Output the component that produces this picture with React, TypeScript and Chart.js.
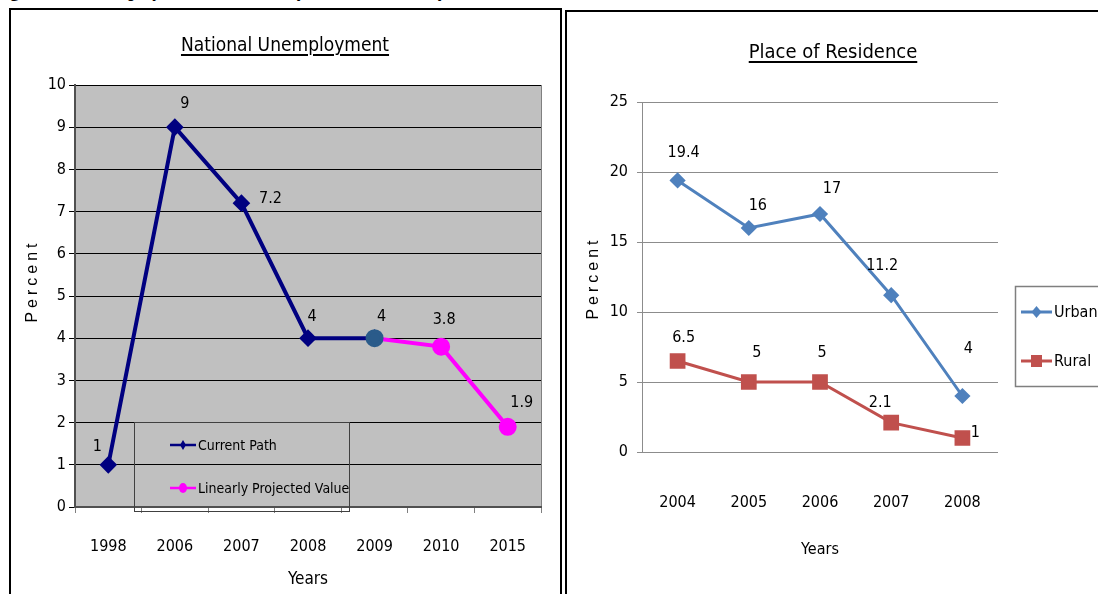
import React, { useEffect, useRef } from 'react';
import { Chart, registerables } from 'chart.js';

Chart.register(...registerables);

// ---------- data ----------
const nationalYears = ['1998', '2006', '2007', '2008', '2009', '2010', '2015'];
const currentPath = [1, 9, 7.2, 4, 4, null, null];
const projectedValue = [null, null, null, null, 4, 3.8, 1.9];
const nationalTickMax = 10;

const residenceYears = ['2004', '2005', '2006', '2007', '2008'];
const urbanRate = [19.4, 16, 17, 11.2, 4];
const ruralRate = [6.5, 5, 5, 2.1, 1];
const residenceTickMax = 25;

// ---------- styles ----------
const NARROW = "'Liberation Sans Narrow', 'DejaVu Sans Condensed', 'Roboto Condensed', 'Liberation Sans', sans-serif";
const ARIAL = "'Liberation Sans', Arial, sans-serif";

const currentLabelOffsets = [[-11, -18], [10, -23], [29, -4], [4, -21], [7, -21], null, null];
const projectedLabelOffsets = [null, null, null, null, null, [3, -27], [14, -24]];
const urbanLabelOffsets = [[6, -28], [9, -22], [12, -25], [-9, -29], [6, -47]];
const ruralLabelOffsets = [[6, -23], [8, -29], [2, -29], [-11, -20], [13, -5]];

function labelPlugin(font: string) {
  return {
    id: 'valueLabels',
    afterDatasetsDraw(chart: any) {
      const ctx = chart.ctx;
      chart.data.datasets.forEach((ds: any, i: number) => {
        const offs = ds.labelOffsets;
        if (!offs) return;
        const meta = chart.getDatasetMeta(i);
        meta.data.forEach((pt: any, j: number) => {
          const v = ds.data[j];
          if (v == null || !offs[j]) return;
          ctx.save();
          ctx.font = font;
          ctx.fillStyle = '#000';
          ctx.textAlign = 'center';
          ctx.textBaseline = 'middle';
          ctx.fillText(String(v), pt.x + offs[j][0], pt.y + offs[j][1]);
          ctx.restore();
        });
      });
    },
  };
}

function yTitlePlugin(text: string, x: number, y: number) {
  return {
    id: 'yTitle',
    afterDraw(chart: any) {
      const ctx = chart.ctx;
      ctx.save();
      ctx.translate(x, y);
      ctx.rotate(-Math.PI / 2);
      ctx.font = `16px ${ARIAL}`;
      (ctx as any).letterSpacing = '4px';
      ctx.fillStyle = '#000';
      ctx.textAlign = 'center';
      ctx.textBaseline = 'middle';
      ctx.fillText(text, 2, 0);
      ctx.restore();
    },
  };
}

const grayPlotPlugin = {
  id: 'grayPlot',
  beforeDraw(chart: any) {
    const { ctx, chartArea: a } = chart;
    ctx.save();
    ctx.fillStyle = '#c0c0c0';
    ctx.fillRect(a.left, a.top, a.right - a.left, a.bottom - a.top);
    ctx.strokeStyle = '#808080';
    ctx.lineWidth = 1;
    ctx.strokeRect(a.left + 0.5, a.top + 0.5, a.right - a.left, a.bottom - a.top);
    ctx.restore();
  },
};

const leftLegendPlugin = {
  id: 'leftLegend',
  afterDraw(chart: any) {
    const ctx = chart.ctx;
    ctx.save();
    ctx.strokeStyle = '#404040';
    ctx.lineWidth = 1;
    ctx.strokeRect(122.5, 410.5, 215, 89);
    const items = [
      { text: 'Current Path', color: '#000080', y: 433, style: 'diamond' },
      { text: 'Linearly Projected Value', color: '#ff00ff', y: 476, style: 'circle' },
    ];
    items.forEach((it) => {
      ctx.strokeStyle = it.color;
      ctx.lineWidth = 2.5;
      ctx.beginPath();
      ctx.moveTo(158, it.y);
      ctx.lineTo(184, it.y);
      ctx.stroke();
      ctx.fillStyle = it.color;
      ctx.beginPath();
      if (it.style === 'diamond') {
        ctx.moveTo(171, it.y - 5);
        ctx.lineTo(174, it.y);
        ctx.lineTo(171, it.y + 5);
        ctx.lineTo(168, it.y);
        ctx.closePath();
      } else {
        ctx.ellipse(171, it.y, 4, 5, 0, 0, Math.PI * 2);
      }
      ctx.fill();
      ctx.fillStyle = '#000';
      ctx.font = `14px ${NARROW}`;
      ctx.textAlign = 'left';
      ctx.textBaseline = 'middle';
      ctx.fillText(it.text, 186, it.y + 1);
    });
    ctx.restore();
  },
};

const rightLegendPlugin = {
  id: 'rightLegend',
  afterDraw(chart: any) {
    const ctx = chart.ctx;
    ctx.save();
    ctx.strokeStyle = '#7f7f7f';
    ctx.lineWidth = 1.5;
    ctx.strokeRect(447.5, 274.5, 100, 100);
    const items = [
      { text: 'Urban', color: '#4f81bd', y: 300, style: 'diamond' },
      { text: 'Rural', color: '#c0504d', y: 349, style: 'square' },
    ];
    items.forEach((it) => {
      ctx.strokeStyle = it.color;
      ctx.lineWidth = 3;
      ctx.beginPath();
      ctx.moveTo(453, it.y);
      ctx.lineTo(484, it.y);
      ctx.stroke();
      ctx.fillStyle = it.color;
      ctx.beginPath();
      if (it.style === 'diamond') {
        ctx.moveTo(468.5, it.y - 6);
        ctx.lineTo(473.5, it.y);
        ctx.lineTo(468.5, it.y + 6);
        ctx.lineTo(463.5, it.y);
        ctx.closePath();
      } else {
        ctx.rect(463, it.y - 6, 11, 12);
      }
      ctx.fill();
      ctx.fillStyle = '#000';
      ctx.font = `16px ${NARROW}`;
      ctx.textAlign = 'left';
      ctx.textBaseline = 'middle';
      ctx.fillText(it.text, 486, it.y + 1);
    });
    ctx.restore();
  },
};

function NationalChart() {
  const ref = useRef<HTMLCanvasElement>(null);
  useEffect(() => {
    const chart = new Chart(ref.current as HTMLCanvasElement, {
      type: 'line',
      data: {
        labels: nationalYears,
        datasets: [
          {
            label: 'Current Path',
            data: currentPath,
            borderColor: '#000080',
            backgroundColor: '#000080',
            borderWidth: 4,
            pointStyle: 'rectRot',
            pointRadius: 6,
            pointBackgroundColor: '#000080',
            pointBorderColor: '#000080',
            order: 1,
            spanGaps: false,
            labelOffsets: currentLabelOffsets,
          } as any,
          {
            label: 'Linearly Projected Value',
            data: projectedValue,
            borderColor: '#ff00ff',
            backgroundColor: '#ff00ff',
            borderWidth: 4,
            pointStyle: 'circle',
            pointRadius: 7,
            pointBackgroundColor: projectedValue.map((v, i) => (i === 4 ? '#2a5b8a' : '#ff00ff')),
            pointBorderColor: projectedValue.map((v, i) => (i === 4 ? '#2a5b8a' : '#ff00ff')),
            order: 0,
            labelOffsets: projectedLabelOffsets,
          } as any,
        ],
      },
      options: {
        responsive: false,
        animation: false,
        layout: { padding: { left: 0, top: 73, right: 17, bottom: 0 } },
        plugins: { legend: { display: false }, tooltip: { enabled: false }, title: { display: false } },
        scales: {
          x: {
            type: 'category',
            offset: true,
            afterFit: (s: any) => { s.height = 87; },
            grid: { offset: true, drawOnChartArea: false, drawTicks: true, tickLength: 6, color: '#808080' },
            border: { color: '#505050', width: 2 },
            ticks: { color: '#000', padding: 24, font: { family: NARROW, size: 16 }, maxRotation: 0 },
            title: { display: true, text: 'Years', color: '#000', font: { family: NARROW, size: 17 }, padding: { top: 0, bottom: 4 } },
          },
          y: {
            min: 0,
            max: nationalTickMax,
            afterFit: (s: any) => { s.width = 63; },
            grid: { color: '#000', lineWidth: 1, tickLength: 6, tickColor: '#000' },
            border: { color: '#505050', width: 2 },
            ticks: { stepSize: 1, color: '#000', padding: 3, font: { family: NARROW, size: 16 } },
            title: { display: false },
          },
        },
      } as any,
      plugins: [grayPlotPlugin, labelPlugin(`16px ${NARROW}`), leftLegendPlugin, yTitlePlugin('Percent', 21, 271)],
    });
    return () => chart.destroy();
  }, []);
  return <canvas ref={ref} width={546} height={582} style={{ position: 'absolute', left: 12, top: 12 }} />;
}

function ResidenceChart() {
  const ref = useRef<HTMLCanvasElement>(null);
  useEffect(() => {
    const chart = new Chart(ref.current as HTMLCanvasElement, {
      type: 'line',
      data: {
        labels: residenceYears,
        datasets: [
          {
            label: 'Urban',
            data: urbanRate,
            borderColor: '#4f81bd',
            backgroundColor: '#4f81bd',
            borderWidth: 3,
            pointStyle: 'rectRot',
            pointRadius: 6,
            labelOffsets: urbanLabelOffsets,
          } as any,
          {
            label: 'Rural',
            data: ruralRate,
            borderColor: '#c0504d',
            backgroundColor: '#c0504d',
            borderWidth: 3,
            pointStyle: 'rect',
            pointRadius: 9,
            labelOffsets: ruralLabelOffsets,
          } as any,
        ],
      },
      options: {
        responsive: false,
        animation: false,
        layout: { padding: { left: 0, top: 90, right: 100, bottom: 0 } },
        plugins: { legend: { display: false }, tooltip: { enabled: false }, title: { display: false } },
        scales: {
          x: {
            type: 'category',
            offset: true,
            afterFit: (s: any) => { s.height = 142; },
            grid: { display: false },
            border: { display: false },
            ticks: { color: '#000', padding: 33, font: { family: NARROW, size: 16 }, maxRotation: 0 },
            title: { display: true, text: 'Years', color: '#000', font: { family: NARROW, size: 16 }, padding: { top: 0, bottom: 35 } },
          },
          y: {
            min: 0,
            max: residenceTickMax,
            afterFit: (s: any) => { s.width = 74; },
            grid: { color: '#8c8c8c', lineWidth: 1, tickLength: 5, tickColor: '#8c8c8c' },
            border: { color: '#8c8c8c', width: 1 },
            ticks: { stepSize: 5, color: '#000', padding: 9, font: { family: NARROW, size: 16 } },
            title: { display: false },
          },
        },
      } as any,
      plugins: [labelPlugin(`16px ${NARROW}`), rightLegendPlugin, yTitlePlugin('Percent', 26, 268)],
    });
    return () => chart.destroy();
  }, []);
  return <canvas ref={ref} width={530} height={582} style={{ position: 'absolute', left: 568, top: 12 }} />;
}

export default function App() {
  return (
    <div style={{ position: 'fixed', left: 0, top: 0, width: 1098, height: 594, overflow: 'hidden', background: '#fff' }}>
      <div style={{ position: 'absolute', left: -6, top: -19, font: "bold 18px 'Liberation Serif', 'Times New Roman', serif", whiteSpace: 'nowrap', color: '#000' }}>
        Figure 3.6: Unemployment Rate in Kenya, National and by Place of Residence
      </div>
      {/* panel borders */}
      <div style={{ position: 'absolute', left: 9, top: 8, width: 553, height: 600, border: '2px solid #000', boxSizing: 'border-box' }} />
      <div style={{ position: 'absolute', left: 565, top: 10, width: 600, height: 600, border: '2px solid #000', boxSizing: 'border-box' }} />
      <NationalChart />
      <ResidenceChart />
      <div style={{ position: 'absolute', left: 12, top: 33, width: 546, textAlign: 'center', font: `19px ${NARROW}`, color: '#000', textDecoration: 'underline', textDecorationThickness: '2px', textUnderlineOffset: '3px' }}>
        National Unemployment
      </div>
      <div style={{ position: 'absolute', left: 568, top: 39, width: 530, textAlign: 'center', font: `20px ${NARROW}`, color: '#000', textDecoration: 'underline', textDecorationThickness: '2px', textUnderlineOffset: '3px' }}>
        Place of Residence
      </div>
    </div>
  );
}
